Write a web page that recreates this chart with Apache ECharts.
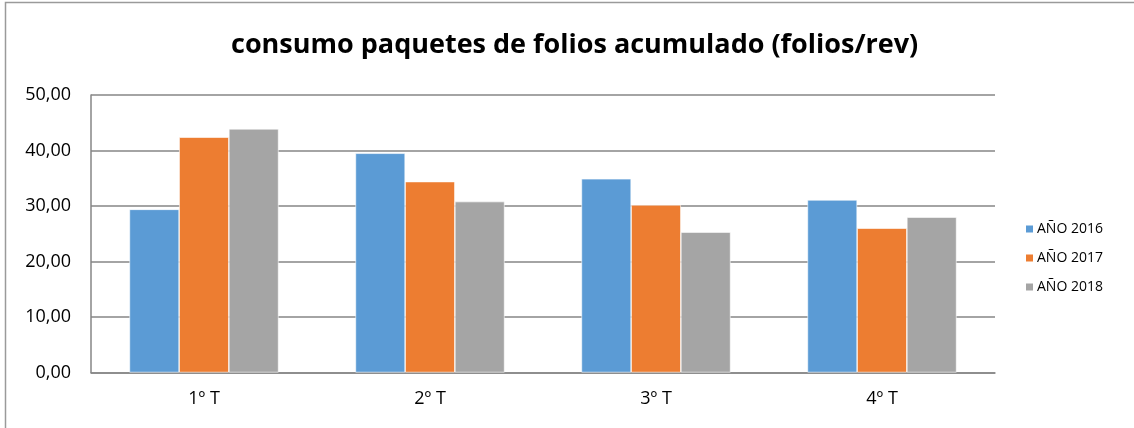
<!DOCTYPE html>
<html>
<head>
<meta charset="utf-8">
<script src="https://cdn.jsdelivr.net/npm/echarts@6/dist/echarts.min.js"></script>
<style>
  html, body { margin: 0; padding: 0; background: #fff; }
  #chart { width: 1134px; height: 428px; }
</style>
</head>
<body>
<div id="chart"></div>
<script>
const categories = ['1º T', '2º T', '3º T', '4º T']
const yTicks = [0, 10, 20, 30, 40, 50]
const serie2016 = [29.4, 39.5, 34.9, 31.1]
const serie2017 = [42.4, 34.4, 30.2, 26.0]
const serie2018 = [43.9, 30.8, 25.3, 28.0]

const myChart = echarts.init(document.getElementById('chart'))

const font = 'Open Sans, sans-serif'

// borde exterior del gráfico
const frame = {
  type: 'rect',
  shape: { x: 5.5, y: 2.5, width: 1140, height: 440 },
  style: { fill: 'none', stroke: '#9a9a9a', lineWidth: 1.5 },
  silent: true
}

function bar(name, data, color) {
  return {
    name,
    type: 'bar',
    data,
    barGap: '0%',
    barCategoryGap: '34%',
    itemStyle: { color, borderColor: '#fff', borderWidth: 0.6 }
  }
}

myChart.setOption({
  animation: false,
  graphic: [frame],
  title: {
    text: 'consumo paquetes de folios acumulado (folios/rev)',
    left: 226,
    top: 27,
    textStyle: { fontFamily: font, fontWeight: 'bold', fontSize: 27, color: '#000' }
  },
  legend: {
    orient: 'vertical',
    left: 1019,
    top: 217,
    itemWidth: 9,
    itemHeight: 9,
    itemGap: 15,
    icon: 'rect',
    textStyle: { fontFamily: font, fontSize: 14, color: '#000', padding: [0, 0, 0, -2] },
    data: ['AÑO 2016', 'AÑO 2017', 'AÑO 2018']
  },
  grid: { left: 91, right: 139, top: 95, bottom: 55.5 },
  xAxis: {
    type: 'category',
    data: categories,
    axisLine: { lineStyle: { color: '#868686', width: 1.5 } },
    axisTick: { show: false },
    axisLabel: { fontFamily: font, fontSize: 18, color: '#000', margin: 17 }
  },
  yAxis: {
    type: 'value',
    min: yTicks[0],
    max: yTicks[yTicks.length - 1],
    interval: 10,
    axisLine: { show: true, lineStyle: { color: '#868686', width: 1.5 } },
    axisTick: { show: false },
    splitLine: { lineStyle: { color: '#868686', width: 1.5 } },
    axisLabel: {
      fontFamily: font, fontSize: 18, color: '#000', margin: 20,
      formatter: v => v.toFixed(2).replace('.', ',')
    }
  },
  series: [
    bar('AÑO 2016', serie2016, '#5B9BD5'),
    bar('AÑO 2017', serie2017, '#ED7D31'),
    bar('AÑO 2018', serie2018, '#A5A5A5')
  ]
})
</script>
</body>
</html>
